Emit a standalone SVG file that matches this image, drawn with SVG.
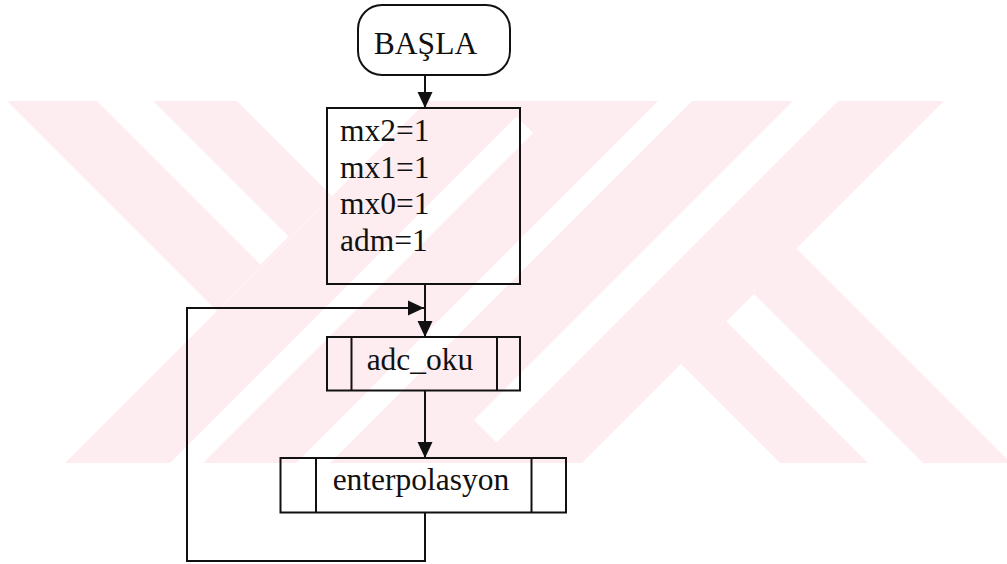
<svg xmlns="http://www.w3.org/2000/svg" width="1007" height="564" viewBox="0 0 1007 564">
  <defs>
    <clipPath id="band"><rect x="0" y="101" width="1007" height="362"/></clipPath>
    <marker id="ah" markerUnits="userSpaceOnUse" markerWidth="16" markerHeight="16" viewBox="0 0 16 16" refX="16" refY="8" orient="auto">
      <path d="M0,0.5 L16,8 L0,15.5 Z" fill="#111"/>
    </marker>
  </defs>
  <style>
    .wm { fill: #fdedf0; }
    .wg { fill: #ffffff; }
    .box { fill: none; stroke: #111; stroke-width: 2; }
    .ln { fill: none; stroke: #111; stroke-width: 2; }
    .t { font-family: "Liberation Serif", "Times New Roman", serif; font-size: 31.5px; fill: #111; }
    .c { text-anchor: middle; }
  </style>
  <rect x="0" y="0" width="1007" height="564" fill="#ffffff"/>
  <g id="watermark" clip-path="url(#band)">
    <polygon class="wm" points="217,311 332,196 -82,-218 -197,-103"/>
    <polygon class="wm" points="-36,564 664,-136 779.5,-20.5 79.5,679.5"/>
    <polygon class="wm" points="96.5,696.5 896.5,-103.5 1022.5,22.5 222.5,822.5"/>
    <polygon class="wm" points="681,364 796.5,248.5 1124,576 1008.5,691.5"/>
    <polygon class="wg" points="260.5,264.5 288.5,236.5 -124,-176 -152,-148"/>
    <polygon class="wg" points="516.5,116.5 533,133 33,633 16.5,616.5"/>
    <polygon class="wg" points="474,420 947,-53 969.5,-30.5 496.5,442.5"/>
    <polygon class="wg" points="726.5,321.5 754,294 1080,620 1052.5,647.5"/>
  </g>
  <g id="connectors">
    <path class="ln" d="M425,75 V108" marker-end="url(#ah)"/>
    <path class="ln" d="M425,284 V337" marker-end="url(#ah)"/>
    <path class="ln" d="M425,390.5 V458" marker-end="url(#ah)"/>
    <path class="ln" d="M425,512.5 V561 H187 V308 H424" marker-end="url(#ah)"/>
  </g>
  <g id="start">
    <rect class="box" x="358" y="5" width="152" height="70" rx="24" ry="24"/>
    <text class="t c" x="425.5" y="54">BAŞLA</text>
  </g>
  <g id="init">
    <rect class="box" x="327" y="108" width="193" height="176"/>
    <text class="t" x="340" y="141">mx2=1</text>
    <text class="t" x="340" y="177.5">mx1=1</text>
    <text class="t" x="340" y="214">mx0=1</text>
    <text class="t" x="340" y="250.5">adm=1</text>
  </g>
  <g id="adc_oku">
    <rect class="box" x="327" y="337" width="193" height="53.5"/>
    <line class="ln" x1="351.5" y1="337" x2="351.5" y2="390.5"/>
    <line class="ln" x1="497" y1="337" x2="497" y2="390.5"/>
    <text class="t c" x="420" y="370">adc_oku</text>
  </g>
  <g id="enterpolasyon">
    <rect class="box" x="280.5" y="458" width="285.5" height="54.5"/>
    <line class="ln" x1="316" y1="458" x2="316" y2="512.5"/>
    <line class="ln" x1="531.5" y1="458" x2="531.5" y2="512.5"/>
    <text class="t c" x="421" y="490">enterpolasyon</text>
  </g>
</svg>
